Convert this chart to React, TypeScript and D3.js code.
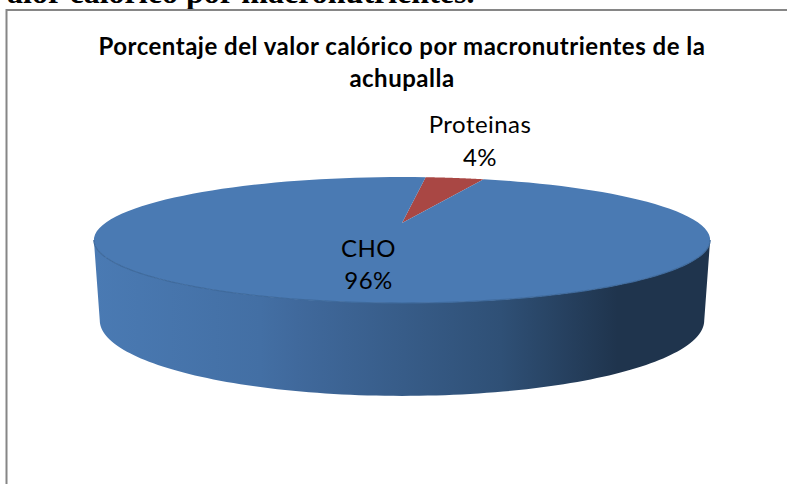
import React from 'react';
import * as d3 from 'd3';

const categories = ['Proteinas', 'CHO'];
const shares = [4, 96];
const labelLines = [['Proteinas', '4%'], ['CHO', '96%']];
const titleLines = ['Porcentaje del valor calórico por macronutrientes de la', 'achupalla'];
const headingText = 'alor calórico por macronutrientes.';
const sideStops = [
  [0, '#4a7ab3'], [0.27, '#436fa4'], [0.33, '#40699c'], [0.66, '#2f5076'], [0.85, '#1f344d'], [1, '#1f344d'],
];

const W = 787, H = 484;
const CX = 402, CY = 223;
// perspective projection of a unit circle onto the pie's faces
const proj = (a: number, x0: number, y0: number, bx: number, by: number, k: number): [number, number] => {
  const u = Math.sin(a), v = -Math.cos(a);
  const d = 1 + k * v;
  return [x0 + (bx * u) / d, y0 + (by * v) / d];
};
const top = (a: number) => proj(a, CX, CY, 296.7, 58.4, -0.27);
const bottom = (a: number) => proj(a, CX, 300, 291, 70, -0.27);

const line = d3.line();
const sweep = (a0: number, a1: number, f: (a: number) => [number, number]) =>
  d3.range(0, 121).map((i) => f(a0 + ((a1 - a0) * i) / 120));

export default function App() {
  const start = (5.8 * Math.PI) / 180;
  const arcs = d3.pie<number>().sort(null).startAngle(start).endAngle(start + 2 * Math.PI)(shares);
  const colors = d3.scaleOrdinal<string>().domain(categories).range(['#a94744', '#4a7ab3']);
  const widest = Math.asin(0.27) + Math.PI / 2;
  const front = sweep(widest, 2 * Math.PI - widest, top);
  const back = sweep(2 * Math.PI - widest, widest, bottom);
  const sidePath = line([...front, ...back]) + 'Z';
  const font = "Lato, 'Open Sans', sans-serif";
  return (
    <svg width={W} height={H} style={{ position: 'absolute', left: 0, top: 0, background: '#fff' }}>
      <defs>
        <linearGradient id="side" x1="94" x2="710" y1="0" y2="0" gradientUnits="userSpaceOnUse">
          {sideStops.map(([o, c]) => <stop key={o as number} offset={o as number} stopColor={c as string} />)}
        </linearGradient>
      </defs>
      <text x={7} y={2.5} fontFamily="'Liberation Serif', serif" fontWeight="bold" fontSize={32} fill="#000">{headingText}</text>
      <rect x={6.5} y={10} width={W + 20} height={H + 20} fill="#fff" stroke="#868686" strokeWidth={2} />
      <text textAnchor="middle" fontFamily={font} fontWeight="bold" fontSize={24} letterSpacing={0.5} fill="#000">
        {titleLines.map((t, i) => <tspan key={t} x={402} y={54.5 + i * 32}>{t}</tspan>)}
      </text>
      <path d={sidePath} fill="url(#side)" />
      {arcs.map((a, i) => (
        <path key={categories[i]} fill={colors(categories[i])}
          d={line([[CX, CY], ...sweep(a.startAngle, a.endAngle, top)]) + 'Z'} />
      ))}
      <path d={line(front) ?? ''} fill="none" stroke="#3f6a9c" strokeWidth={1.2} />
      <text textAnchor="middle" fontFamily={font} fontSize={24} letterSpacing={0.45} fill="#000">
        <tspan x={480} y={133}>{labelLines[0][0]}</tspan>
        <tspan x={480} y={166}>{labelLines[0][1]}</tspan>
        <tspan x={368.5} y={257}>{labelLines[1][0]}</tspan>
        <tspan x={368.5} y={289}>{labelLines[1][1]}</tspan>
      </text>
    </svg>
  );
}
